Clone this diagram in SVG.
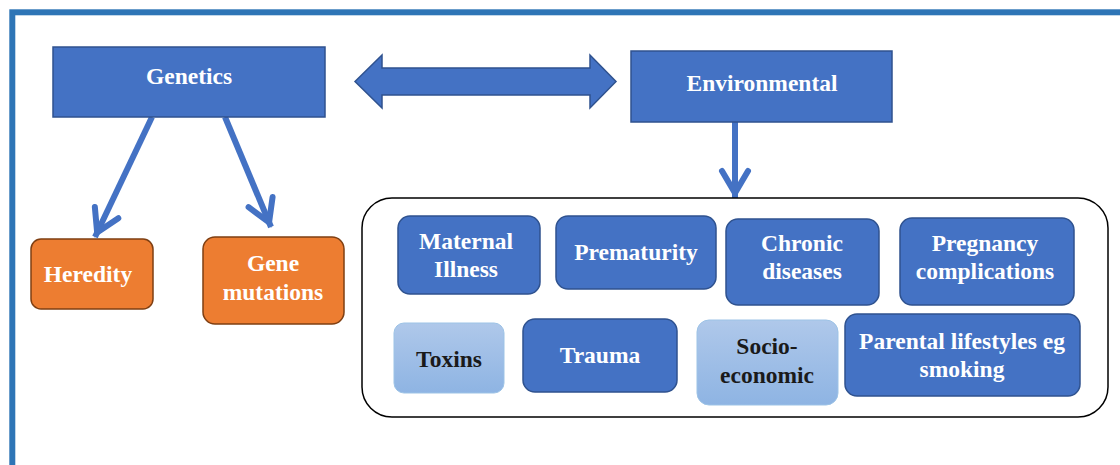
<svg xmlns="http://www.w3.org/2000/svg" width="1120" height="465" viewBox="0 0 1120 465">
<style>
.t{font-family:"Liberation Serif","Times New Roman",serif;font-weight:bold;font-size:23.5px;text-anchor:middle;fill:#ffffff}
.dk{fill:#1a1a1a}
.blue{fill:#4472C4;stroke:#2F528F;stroke-width:1.5}
.orange{fill:#ED7D31;stroke:#7F3F12;stroke-width:1.5}
.light{fill:url(#lg);stroke:#9DC3E6;stroke-width:1}
.conn{stroke:#4472C4;stroke-width:6;fill:none;stroke-linecap:butt}
</style>
<defs>
<linearGradient id="lg" x1="0" y1="0" x2="0" y2="1">
<stop offset="0" stop-color="#AFC8EA"/>
<stop offset="1" stop-color="#8EB4E3"/>
</linearGradient>
<marker id="ah" markerUnits="userSpaceOnUse" markerWidth="60" markerHeight="60" refX="0" refY="0" orient="auto" overflow="visible">
<path d="M-27,-13 L-5,0 L-27,13" fill="none" stroke="#4472C4" stroke-width="6" stroke-linecap="round" stroke-linejoin="miter"/>
</marker>
</defs>
<rect x="0" y="0" width="1120" height="465" fill="#ffffff"/>
<rect x="12.3" y="12.3" width="1200" height="600" fill="none" stroke="#2E75B6" stroke-width="6"/>

<g id="connectors">
<line class="conn" x1="152" y1="117" x2="95" y2="237" marker-end="url(#ah)"/>
<line class="conn" x1="225" y1="117" x2="271" y2="227" marker-end="url(#ah)"/>
<line class="conn" x1="735" y1="122" x2="735" y2="198" marker-end="url(#ah)"/>
<polygon points="355,81.5 382,55 382,68 590,68 590,55 616,81.5 590,108 590,95 382,95 382,108" fill="#4472C4" stroke="#2F528F" stroke-width="1.5"/>
</g>

<g id="genetics">
<rect class="blue" x="53" y="47" width="272" height="70"/>
<text class="t" x="189" y="84">Genetics</text>
</g>
<g id="environmental">
<rect class="blue" x="631" y="51" width="261" height="71"/>
<text class="t" x="762" y="91">Environmental</text>
</g>
<g id="heredity">
<rect class="orange" x="31" y="239" width="122" height="70" rx="10"/>
<text class="t" x="88" y="282">Heredity</text>
</g>
<g id="gene-mutations">
<rect class="orange" x="203" y="237" width="141" height="87" rx="12"/>
<text class="t" x="273" y="271">Gene</text>
<text class="t" x="273" y="300">mutations</text>
</g>

<g id="environmental-factors">
<rect x="362" y="198" width="746" height="219" rx="30" fill="#ffffff" stroke="#000000" stroke-width="1.5"/>
</g>
<g id="maternal-illness">
<rect class="blue" x="398" y="216" width="142" height="78" rx="12"/>
<text class="t" x="466" y="249">Maternal</text>
<text class="t" x="466" y="277">Illness</text>
</g>
<g id="prematurity">
<rect class="blue" x="556" y="216" width="160" height="73" rx="12"/>
<text class="t" x="636" y="260">Prematurity</text>
</g>
<g id="chronic-diseases">
<rect class="blue" x="726" y="219" width="153" height="86" rx="12"/>
<text class="t" x="802" y="251">Chronic</text>
<text class="t" x="802" y="279">diseases</text>
</g>
<g id="pregnancy-complications">
<rect class="blue" x="900" y="218" width="174" height="87" rx="12"/>
<text class="t" x="985" y="251">Pregnancy</text>
<text class="t" x="985" y="279">complications</text>
</g>
<g id="toxins">
<rect class="light" x="394" y="323" width="110" height="70" rx="10"/>
<text class="t dk" x="449" y="367">Toxins</text>
</g>
<g id="trauma">
<rect class="blue" x="523" y="319" width="154" height="73" rx="12"/>
<text class="t" x="600" y="363">Trauma</text>
</g>
<g id="socio-economic">
<rect class="light" x="697" y="320" width="141" height="85" rx="12"/>
<text class="t dk" x="767" y="354">Socio-</text>
<text class="t dk" x="767" y="383">economic</text>
</g>
<g id="parental-lifestyles">
<rect class="blue" x="845" y="314" width="235" height="82" rx="12"/>
<text class="t" x="962" y="349">Parental lifestyles eg</text>
<text class="t" x="962" y="377">smoking</text>
</g>
</svg>
